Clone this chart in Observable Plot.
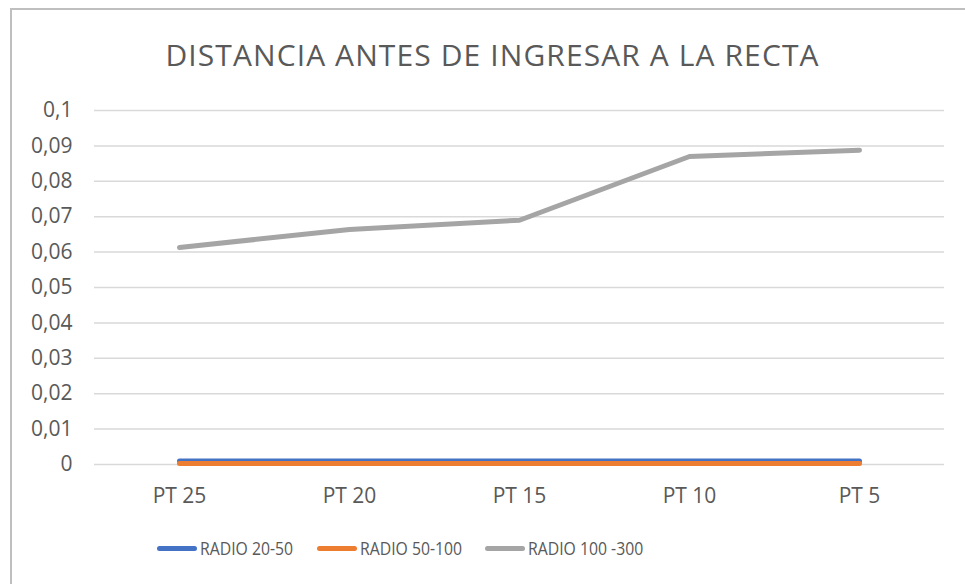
<!DOCTYPE html>
<html>
<head>
<meta charset="utf-8">
<script src="https://cdn.jsdelivr.net/npm/d3@7"></script>
<script src="https://cdn.jsdelivr.net/npm/@observablehq/plot@0.6"></script>
<style>
  body { margin: 0; background: #fff; width: 965px; height: 584px; overflow: hidden; position: relative; font-family: "Open Sans", Lato, sans-serif; color: #595959; }
  #frame { position: absolute; left: 10px; top: 8px; width: 970px; height: 600px; border-left: 2px solid #BFBFBF; border-top: 2px solid #BFBFBF; box-sizing: border-box; }
  #title { position: absolute; top: 35px; left: 0; width: 985px; text-align: center; font-size: 30px; letter-spacing: 1.1px; font-weight: 400; color: #595959; line-height: 40px; }
  #chart { position: absolute; left: 0; top: 90px; }
  #chart svg text { font-size: 21px; }
  #legend { position: absolute; top: 536px; left: 0; width: 965px; height: 24px; font-size: 19px; color: #595959; }
  .item { position: absolute; top: 0; display: flex; align-items: center; height: 24px; white-space: nowrap; }
  .sw { width: 40px; height: 5px; border-radius: 3px; margin-right: 3px; flex: none; }
  .lt { display: inline-block; transform: scaleX(0.83); transform-origin: left center; }
</style>
</head>
<body>
<div id="frame"></div>
<div id="title">DISTANCIA ANTES DE INGRESAR A LA RECTA</div>
<div id="chart"></div>
<div id="legend"></div>
<script>
const categories = ["PT 25", "PT 20", "PT 15", "PT 10", "PT 5"];
const seriesNames = ["RADIO 20-50", "RADIO 50-100", "RADIO 100 -300"];
const radio20_50 = [0.001, 0.001, 0.001, 0.001, 0.001];
const radio50_100 = [0.0003, 0.0003, 0.0003, 0.0003, 0.0003];
const radio100_300 = [0.0613, 0.0664, 0.069, 0.087, 0.0888];
const yTicks = [0, 0.01, 0.02, 0.03, 0.04, 0.05, 0.06, 0.07, 0.08, 0.09, 0.1];
const colors = ["#4472C4", "#ED7D31", "#A5A5A5"];

const seriesValues = [radio20_50, radio50_100, radio100_300];
const data = [];
seriesNames.forEach((s, i) => categories.forEach((c, j) => data.push({series: s, cat: c, value: seriesValues[i][j]})));

const fmt = v => String(v).replace(".", ",");

const chart = Plot.plot({
  width: 965,
  height: 430,
  marginLeft: 94,
  marginRight: 21,
  marginTop: 20,
  marginBottom: 56,
  style: { fontFamily: "'Open Sans', Lato, sans-serif", fontSize: "21px", color: "#595959", background: "transparent" },
  x: { type: "point", domain: categories, padding: 0.5, label: null, tickSize: 0, tickPadding: 24 },
  y: { domain: [0, 0.1], ticks: yTicks, tickFormat: fmt, label: null, tickSize: 0, tickPadding: 22 },
  color: { domain: seriesNames, range: colors },
  marks: [
    Plot.ruleY(yTicks, { stroke: "#D9D9D9", strokeWidth: 1.5, strokeOpacity: 1 }),
    Plot.line(data, { x: "cat", y: "value", z: "series", stroke: "series", strokeWidth: 5, strokeLinecap: "round", strokeLinejoin: "round" })
  ]
});
chart.querySelectorAll("text").forEach(t => t.setAttribute("fill", "#595959"));
document.getElementById("chart").appendChild(chart);

const legendLefts = [157, 317, 485];
const legend = document.getElementById("legend");
seriesNames.forEach((s, i) => {
  const it = document.createElement("div");
  it.className = "item";
  it.style.left = legendLefts[i] + "px";
  const sw = document.createElement("div");
  sw.className = "sw";
  sw.style.background = colors[i];
  const tx = document.createElement("span");
  tx.className = "lt";
  tx.textContent = s;
  it.appendChild(sw); it.appendChild(tx);
  legend.appendChild(it);
});
</script>
</body>
</html>
